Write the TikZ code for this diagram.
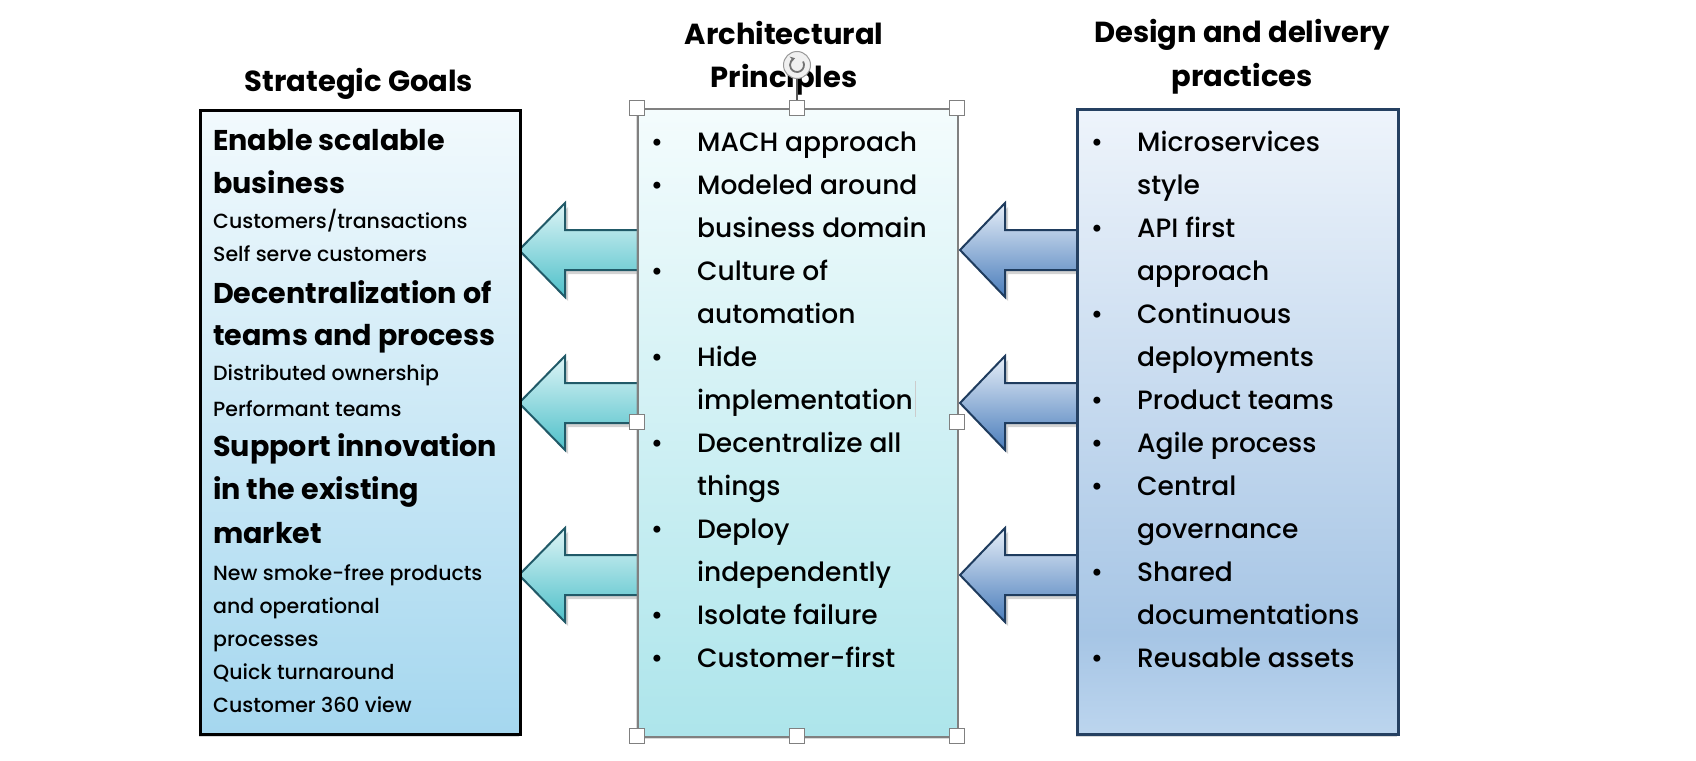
\documentclass[tikz,border=0pt]{standalone}
\usepackage{fontspec}
\setmainfont{Poppins}[UprightFont=* Medium,BoldFont=* Bold]
\usetikzlibrary{shadows,calc,arrows.meta}
\definecolor{lTop}{HTML}{F2FAFD}
\definecolor{lBot}{HTML}{A5D7EF}
\definecolor{mTop}{HTML}{F4FCFD}
\definecolor{mBot}{HTML}{ADE5EB}
\definecolor{rTop}{HTML}{EEF4FB}
\definecolor{rMid}{HTML}{A6C5E5}
\definecolor{rBot}{HTML}{BCD5EE}
\definecolor{laTop}{HTML}{DDF4F6}
\definecolor{laBot}{HTML}{4EC0C9}
\definecolor{laLine}{HTML}{215A68}
\definecolor{raTop}{HTML}{E6EEF8}
\definecolor{raBot}{HTML}{4A7DBB}
\definecolor{raLine}{HTML}{1F3C5E}
\definecolor{rLine}{HTML}{254061}
\definecolor{mLine}{HTML}{808080}
\pgfdeclareverticalshading{rightshade}{100bp}{color(0bp)=(rBot); color(25bp)=(rBot); color(33bp)=(rMid); color(75bp)=(rTop); color(100bp)=(rTop)}
\begin{document}
\begin{tikzpicture}[x=1pt,y=-1pt,
  boxshadow/.style={drop shadow={opacity=0.3,shadow xshift=-2pt,shadow yshift=-2pt}},
  goalbox/.style={rectangle,draw=black,line width=3pt,top color=lTop,bottom color=lBot,boxshadow,anchor=north west,inner sep=0pt},
  princbox/.style={rectangle,draw=mLine,line width=1.5pt,top color=mTop,bottom color=mBot,boxshadow,anchor=north west,inner sep=0pt},
  practbox/.style={rectangle,draw=rLine,line width=3pt,shading=rightshade,boxshadow,anchor=north west,inner sep=0pt},
  larrow/.style={draw=laLine,line width=2pt,top color=laTop,bottom color=laBot,line join=miter,drop shadow={opacity=0.35,shadow xshift=3pt,shadow yshift=-4pt}},
  rarrow/.style={draw=raLine,line width=2pt,top color=raTop,bottom color=raBot,line join=miter,drop shadow={opacity=0.35,shadow xshift=3pt,shadow yshift=-4pt}},
  title/.style={font=\bfseries\fontsize{29}{29}\selectfont,anchor=base,inner sep=0pt},
  body/.style={font=\fontsize{26.5}{26.5}\selectfont,anchor=base west,inner sep=0pt},
  gbold/.style={font=\bfseries\fontsize{28.6}{28.6}\selectfont,anchor=base west,inner sep=0pt},
  gsmall/.style={font=\fontsize{20.5}{20.5}\selectfont,anchor=base west,inner sep=0pt},
  bul/.style={font=\fontsize{26.5}{26.5}\selectfont,anchor=base,inner sep=0pt},
  handle/.style={rectangle,draw=mLine,fill=white,line width=1pt,minimum size=15pt,inner sep=0pt}
]
\useasboundingbox (0,0) rectangle (1696,760);
% titles
\node[title] (t1) at (359,91) {Strategic Goals};
\node[title] (t2a) at (784,45) {Architectural};
\node[title] (t2b) at (784,88) {Principles};
\node[title] (t3a) at (1242,43) {Design and delivery};
\node[title] (t3b) at (1242,86) {practices};
% arrows
\foreach \cy in {250,403,575}{
  \draw[larrow] (519,\cy) -- (565,{\cy-47}) -- (565,{\cy-20}) -- (645,{\cy-20}) -- (645,{\cy+20}) -- (565,{\cy+20}) -- (565,{\cy+47}) -- cycle;
  \draw[rarrow] (960,\cy) -- (1005,{\cy-47}) -- (1005,{\cy-20}) -- (1082,{\cy-20}) -- (1082,{\cy+20}) -- (1005,{\cy+20}) -- (1005,{\cy+47}) -- cycle;
}
% boxes
\node[goalbox,minimum width=320pt,minimum height=624pt] (goals) at (199,109) {};
\node[princbox,minimum width=320pt,minimum height=628pt] (princ) at (637,108) {};
\node[practbox,minimum width=321pt,minimum height=625pt] (pract) at (1076,108) {};
% left box text
\node[gbold] (g1) at (213,150) {Enable scalable};
\node[gbold] (g2) at (213,193) {business};
\node[gsmall] (g3) at (213,228) {Customers/transactions};
\node[gsmall] (g4) at (213,261) {Self serve customers};
\node[gbold] (g5) at (213,303) {Decentralization of};
\node[gbold] (g6) at (213,345) {teams and process};
\node[gsmall] (g7) at (213,380) {Distributed ownership};
\node[gsmall] (g8) at (213,416) {Performant teams};
\node[gbold] (g9) at (213,456) {Support innovation};
\node[gbold] (g10) at (213,499) {in the existing};
\node[gbold] (g11) at (213,543) {market};
\node[gsmall] (g12) at (213,580) {New smoke-free products};
\node[gsmall] (g13) at (213,613) {and operational};
\node[gsmall] (g14) at (213,646) {processes};
\node[gsmall] (g15) at (213,679) {Quick turnaround};
\node[gsmall] (g16) at (213,712) {Customer 360 view};
% middle box text
\foreach \t [count=\i] in {MACH approach,Modeled around,business domain,Culture of,automation,Hide,implementation,Decentralize all,things,Deploy,independently,Isolate failure,Customer-first}
  \node[body] (m\i) at (697,{151+43*(\i-1)}) {\t};
\foreach \i in {1,2,4,6,8,10,12,13}
  \node[bul] (mb\i) at (657,{151+43*(\i-1)}) {\textbullet};
% right box text
\foreach \t [count=\i] in {Microservices,style,API first,approach,Continuous,deployments,Product teams,Agile process,Central,governance,Shared,documentations,Reusable assets}
  \node[body] (r\i) at (1137,{151+43*(\i-1)}) {\t};
\foreach \i in {1,3,5,7,8,9,11,13}
  \node[bul] (rb\i) at (1097,{151+43*(\i-1)}) {\textbullet};
% text cursor
\coordinate (cur1) at (915,381);
\coordinate (cur2) at (915,417);
\draw[line width=1pt,color=mLine!40] (cur1) -- (cur2);
% selection handles
\node[circle,draw=mLine!80,fill=black!6,line width=1pt,minimum size=27pt,inner sep=0pt] (rot) at (797,65) {};
\draw[line width=1.8pt,color=mLine!90!black,-{Stealth[length=5pt,width=6pt]}] ([shift={(-30:7)}]rot.center) arc[start angle=-30,end angle=255,radius=7];
\node[handle] (hn) at (797,108) {};
\draw[line width=1.5pt,color=mLine!70!black] (rot.south) -- (hn.north);
\node[handle] (hnw) at (637,108) {};
\node[handle] (hne) at (957,108) {};
\node[handle] (hw) at (637,422) {};
\node[handle] (he) at (957,422) {};
\node[handle] (hsw) at (637,736) {};
\node[handle] (hs) at (797,736) {};
\node[handle] (hse) at (957,736) {};
\end{tikzpicture}
\end{document}
